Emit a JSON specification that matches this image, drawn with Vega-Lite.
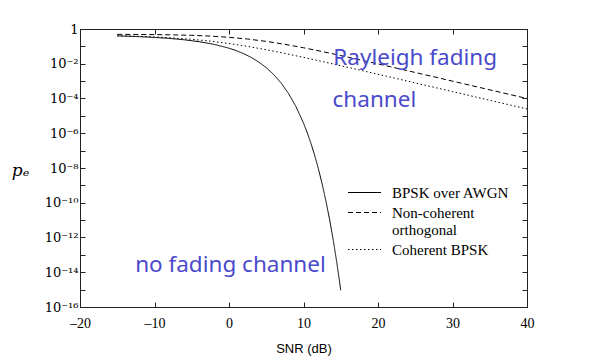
{
  "$schema": "https://vega.github.io/schema/vega-lite/v6.json",
  "width": 447,
  "height": 278,
  "autosize": "none",
  "padding": {"left": 80, "top": 29, "right": 68, "bottom": 55},
  "background": "white",
  "config": {
    "view": {"stroke": "#222", "strokeWidth": 1},
    "axis": {"grid": false, "domainColor": "#222", "tickColor": "#222", "labelColor": "black", "titleColor": "black", "labelFont": "Liberation Serif", "labelFontSize": 14, "titleFontWeight": "normal", "labelFlush": false}
  },
  "datasets": {
    "curves": [
      {"snr": -15, "pe": 0.4007, "series": "BPSK over AWGN"},
      {"snr": -12, "pe": 0.3612, "series": "BPSK over AWGN"},
      {"snr": -10, "pe": 0.3274, "series": "BPSK over AWGN"},
      {"snr": -8, "pe": 0.2867, "series": "BPSK over AWGN"},
      {"snr": -6, "pe": 0.2392, "series": "BPSK over AWGN"},
      {"snr": -4, "pe": 0.1861, "series": "BPSK over AWGN"},
      {"snr": -2, "pe": 0.1307, "series": "BPSK over AWGN"},
      {"snr": 0, "pe": 0.07865, "series": "BPSK over AWGN"},
      {"snr": 1, "pe": 0.0563, "series": "BPSK over AWGN"},
      {"snr": 2, "pe": 0.03751, "series": "BPSK over AWGN"},
      {"snr": 3, "pe": 0.02288, "series": "BPSK over AWGN"},
      {"snr": 4, "pe": 0.01251, "series": "BPSK over AWGN"},
      {"snr": 5, "pe": 0.005954, "series": "BPSK over AWGN"},
      {"snr": 6, "pe": 0.002388, "series": "BPSK over AWGN"},
      {"snr": 7, "pe": 0.000773, "series": "BPSK over AWGN"},
      {"snr": 8, "pe": 0.0001909, "series": "BPSK over AWGN"},
      {"snr": 9, "pe": 3.363e-5, "series": "BPSK over AWGN"},
      {"snr": 10, "pe": 3.872e-6, "series": "BPSK over AWGN"},
      {"snr": 10.5, "pe": 1.084e-6, "series": "BPSK over AWGN"},
      {"snr": 11, "pe": 2.613e-7, "series": "BPSK over AWGN"},
      {"snr": 11.5, "pe": 5.33e-8, "series": "BPSK over AWGN"},
      {"snr": 12, "pe": 9.006e-9, "series": "BPSK over AWGN"},
      {"snr": 12.5, "pe": 1.233e-9, "series": "BPSK over AWGN"},
      {"snr": 13, "pe": 1.33e-10, "series": "BPSK over AWGN"},
      {"snr": 13.5, "pe": 1.106e-11, "series": "BPSK over AWGN"},
      {"snr": 14, "pe": 6.81e-13, "series": "BPSK over AWGN"},
      {"snr": 14.5, "pe": 3.006e-14, "series": "BPSK over AWGN"},
      {"snr": 15, "pe": 9.2e-16, "series": "BPSK over AWGN"},
      {"snr": -15, "pe": 0.4922, "series": "Non-coherent orthogonal"},
      {"snr": -12.5, "pe": 0.4863, "series": "Non-coherent orthogonal"},
      {"snr": -10, "pe": 0.4762, "series": "Non-coherent orthogonal"},
      {"snr": -7.5, "pe": 0.4592, "series": "Non-coherent orthogonal"},
      {"snr": -5, "pe": 0.4317, "series": "Non-coherent orthogonal"},
      {"snr": -2.5, "pe": 0.3903, "series": "Non-coherent orthogonal"},
      {"snr": 0, "pe": 0.3333, "series": "Non-coherent orthogonal"},
      {"snr": 2.5, "pe": 0.2647, "series": "Non-coherent orthogonal"},
      {"snr": 5, "pe": 0.1937, "series": "Non-coherent orthogonal"},
      {"snr": 7.5, "pe": 0.1312, "series": "Non-coherent orthogonal"},
      {"snr": 10, "pe": 0.08333, "series": "Non-coherent orthogonal"},
      {"snr": 12.5, "pe": 0.05055, "series": "Non-coherent orthogonal"},
      {"snr": 15, "pe": 0.02974, "series": "Non-coherent orthogonal"},
      {"snr": 20, "pe": 0.009804, "series": "Non-coherent orthogonal"},
      {"snr": 25, "pe": 0.003143, "series": "Non-coherent orthogonal"},
      {"snr": 30, "pe": 0.000998, "series": "Non-coherent orthogonal"},
      {"snr": 35, "pe": 0.000316, "series": "Non-coherent orthogonal"},
      {"snr": 40, "pe": 9.998e-5, "series": "Non-coherent orthogonal"},
      {"snr": -15, "pe": 0.4125, "series": "Coherent BPSK"},
      {"snr": -12.5, "pe": 0.3846, "series": "Coherent BPSK"},
      {"snr": -10, "pe": 0.3492, "series": "Coherent BPSK"},
      {"snr": -7.5, "pe": 0.3057, "series": "Coherent BPSK"},
      {"snr": -5, "pe": 0.2549, "series": "Coherent BPSK"},
      {"snr": -2.5, "pe": 0.2, "series": "Coherent BPSK"},
      {"snr": 0, "pe": 0.1464, "series": "Coherent BPSK"},
      {"snr": 2.5, "pe": 0.09998, "series": "Coherent BPSK"},
      {"snr": 5, "pe": 0.0642, "series": "Coherent BPSK"},
      {"snr": 7.5, "pe": 0.03929, "series": "Coherent BPSK"},
      {"snr": 10, "pe": 0.02327, "series": "Coherent BPSK"},
      {"snr": 12.5, "pe": 0.01349, "series": "Coherent BPSK"},
      {"snr": 15, "pe": 0.00772, "series": "Coherent BPSK"},
      {"snr": 20, "pe": 0.002481, "series": "Coherent BPSK"},
      {"snr": 25, "pe": 0.0007887, "series": "Coherent BPSK"},
      {"snr": 30, "pe": 0.0002498, "series": "Coherent BPSK"},
      {"snr": 35, "pe": 7.9e-5, "series": "Coherent BPSK"},
      {"snr": 40, "pe": 2.5e-5, "series": "Coherent BPSK"}
    ],
    "notes": [
      {"snr": 14, "pe": 0.0214, "label": "Rayleigh fading"},
      {"snr": 13.9, "pe": 8.2e-5, "label": "channel"},
      {"snr": -12.6, "pe": 2.6e-14, "label": "no fading channel"}
    ]
  },
  "resolve": {"axis": {"x": "independent", "y": "independent"}},
  "layer": [
    {
      "data": {"name": "curves"},
      "mark": {"type": "line", "color": "black", "strokeWidth": 1},
      "encoding": {
        "x": {
          "field": "snr", "type": "quantitative",
          "scale": {"domain": [-20, 40], "nice": false, "zero": false},
          "axis": {"orient": "bottom", "values": [-20, -10, 0, 10, 20, 30, 40], "tickSize": -5, "labelPadding": 14, "title": "SNR (dB)", "titleFont": "Liberation Sans", "titleFontSize": 13, "titlePadding": 12, "labelExpr": "replace(datum.label, '−', '–')"}
        },
        "y": {
          "field": "pe", "type": "quantitative",
          "scale": {"type": "log", "domain": [1e-16, 1], "nice": false},
          "axis": {
            "orient": "left",
            "values": [1, 1e-1, 1e-2, 1e-3, 1e-4, 1e-5, 1e-6, 1e-7, 1e-8, 1e-9, 1e-10, 1e-11, 1e-12, 1e-13, 1e-14, 1e-15, 1e-16],
            "tickSize": -5, "labelPadding": 7, "labelFont": "DejaVu Serif", "labelFontSize": 13,
            "labelExpr": "['1','','10⁻²','','10⁻⁴','','10⁻⁶','','10⁻⁸','','10⁻¹⁰','','10⁻¹²','','10⁻¹⁴','','10⁻¹⁶'][-round(log(datum.value)/LN10)]",
            "title": "pₑ", "titleAngle": 0, "titleX": -60, "titleY": 141, "titleAlign": "center", "titleBaseline": "middle",
            "titleFont": "DejaVu Serif", "titleFontSize": 17, "titleFontStyle": "italic"
          }
        },
        "strokeDash": {
          "field": "series", "type": "nominal",
          "scale": {"domain": ["BPSK over AWGN", "Non-coherent orthogonal", "Coherent BPSK"], "range": [[1, 0], [5, 3], [1.5, 2.5]]},
          "legend": {
            "orient": "none", "legendX": 277, "legendY": 156, "title": null,
            "symbolType": "M-3,0H3", "symbolSize": 121, "symbolStrokeColor": "black", "symbolStrokeWidth": 1,
            "labelFont": "Liberation Serif", "labelFontSize": 15, "labelColor": "black", "labelOffset": 20, "rowPadding": 4, "labelBaseline": "middle",
            "labelExpr": "datum.label == 'Non-coherent orthogonal' ? ['Non-coherent', 'orthogonal'] : datum.label"
          }
        }
      }
    },
    {
      "data": {"name": "notes"},
      "mark": {"type": "text", "align": "left", "baseline": "middle", "font": "Noto Sans", "fontSize": 22.5, "color": "#4a4acb"},
      "encoding": {
        "x": {"field": "snr", "type": "quantitative", "axis": {"orient": "top", "values": [-20, -10, 0, 10, 20, 30, 40], "labels": false, "tickSize": -5, "title": null}},
        "y": {"field": "pe", "type": "quantitative", "axis": {"orient": "right", "values": [1, 1e-1, 1e-2, 1e-3, 1e-4, 1e-5, 1e-6, 1e-7, 1e-8, 1e-9, 1e-10, 1e-11, 1e-12, 1e-13, 1e-14, 1e-15, 1e-16], "labels": false, "tickSize": -5, "title": null}},
        "text": {"field": "label"}
      }
    }
  ]
}
